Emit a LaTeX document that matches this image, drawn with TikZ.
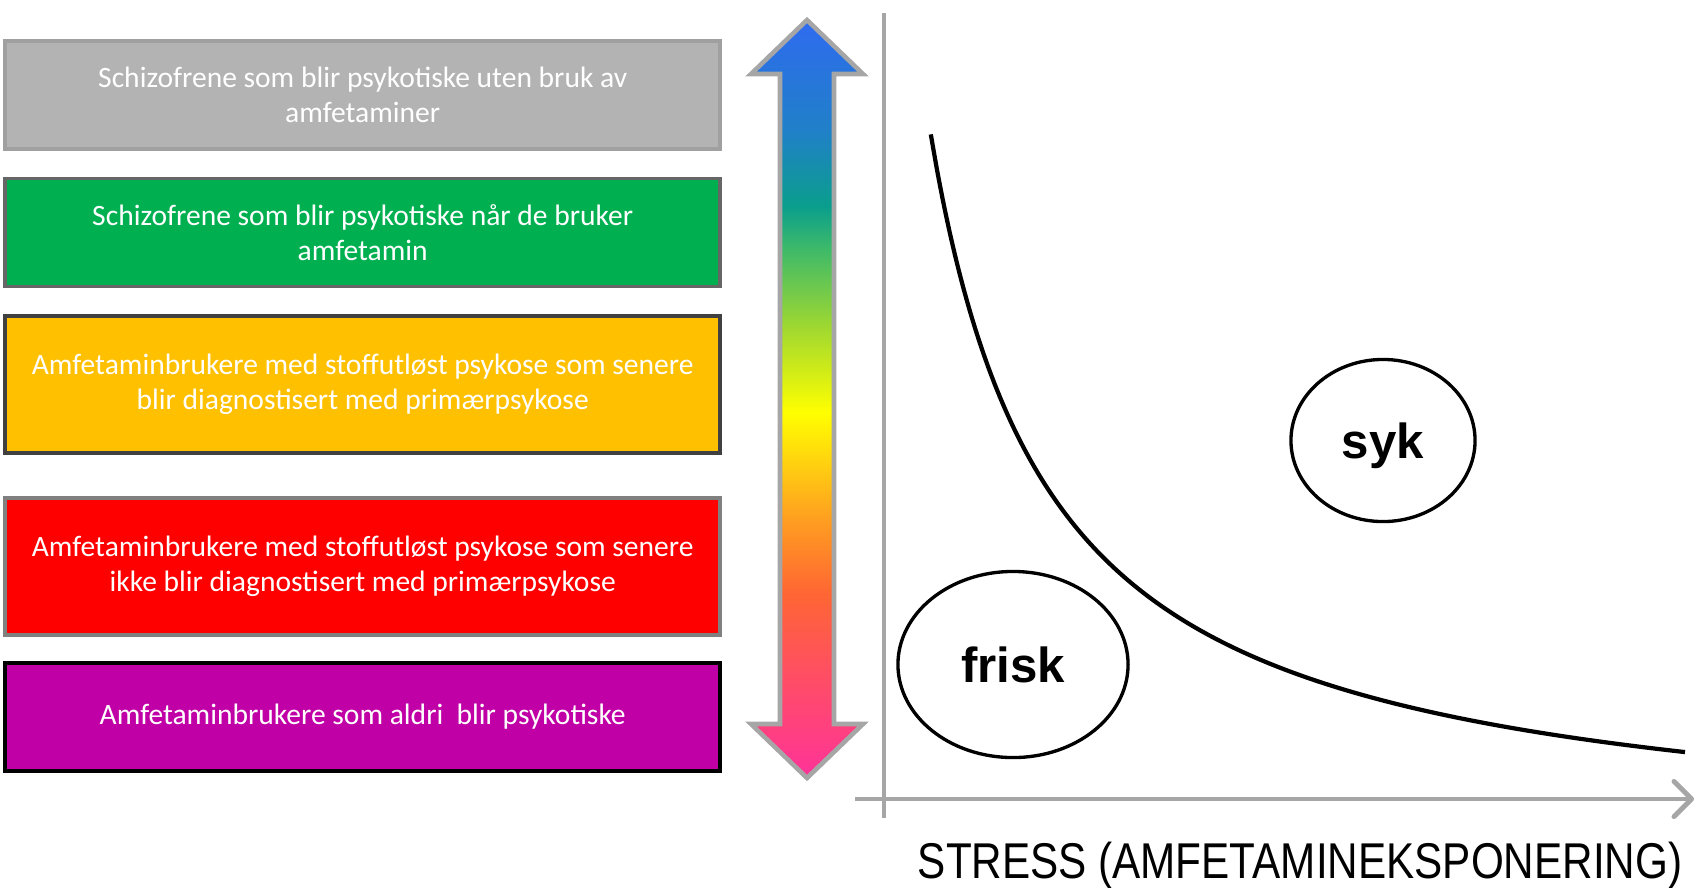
\documentclass[tikz,border=0pt]{standalone}
\usepackage{fontspec}
\setmainfont{Carlito}
\newfontfamily\arialfont{Liberation Sans}
\usepackage{graphicx}
\usetikzlibrary{positioning,shapes.geometric,arrows.meta}
\definecolor{boxgray}{HTML}{B3B3B3}
\definecolor{boxgrayline}{HTML}{A0A0A0}
\definecolor{boxgreen}{HTML}{00B050}
\definecolor{boxgreenline}{HTML}{666666}
\definecolor{boxamber}{HTML}{FFC000}
\definecolor{boxamberline}{HTML}{404040}
\definecolor{boxred}{HTML}{FF0000}
\definecolor{boxredline}{HTML}{808080}
\definecolor{boxpurple}{HTML}{C000A6}
\definecolor{axisgray}{HTML}{A6A6A6}
\definecolor{specpink}{HTML}{FF3399}
\definecolor{specrose}{HTML}{FF5060}
\definecolor{specred}{HTML}{FF6633}
\definecolor{specorange}{HTML}{FFA020}
\definecolor{specyellow}{HTML}{FFFF00}
\definecolor{speclime}{HTML}{A0D830}
\definecolor{specgreen}{HTML}{3CB96A}
\definecolor{specteal}{HTML}{0A9E8C}
\definecolor{specsea}{HTML}{2080C8}
\definecolor{specblue}{HTML}{2F6BF0}
\pgfdeclareverticalshading{spectrum}{100bp}{color(0bp)=(specpink); color(25bp)=(specpink);
  color(32.3bp)=(specrose); color(37.2bp)=(specred); color(42.2bp)=(specorange);
  color(49.1bp)=(specyellow); color(54.7bp)=(speclime); color(60bp)=(specgreen);
  color(62.7bp)=(specteal); color(67.7bp)=(specsea); color(75bp)=(specblue); color(100bp)=(specblue)}

\begin{document}
\begin{tikzpicture}
        [x=0.01cm, y=-0.01cm,
        every node/.style={align=center, outer sep=0pt},
        group/.style={rectangle, minimum width=7.146cm, line width=1pt, text=white,
        font=\fontsize{8.4}{10}\selectfont},
        short/.style={minimum height=1.08cm},
        tall/.style={minimum height=1.37cm},
        zone/.style={ellipse, draw=black, line width=0.95pt, text depth=0pt,
        font=\arialfont\bfseries\fontsize{14}{16}\selectfont},
        axis/.style={draw=axisgray, line width=1.4pt},
        node distance=0.295cm]
        \useasboundingbox (0,0) rectangle (1697,887);
        \node[group, short, fill=boxgray, draw=boxgrayline] (ownpsy) at (362.7,95)
            {Schizofrene som blir psykotiske uten bruk av\\amfetaminer};
        \node[group, short, fill=boxgreen, draw=boxgreenline, below=of ownpsy] (usepsy)
            {Schizofrene som blir psykotiske når de bruker\\amfetamin};
        \node[group, tall, fill=boxamber, draw=boxamberline, below=of usepsy] (diagpsy)
            {Amfetaminbrukere med stoffutløst psykose som senere\\blir diagnostisert med primærpsykose};
        \node[group, tall, fill=boxred, draw=boxredline, below=0.445cm of diagpsy] (nodiagpsy)
            {Amfetaminbrukere med stoffutløst psykose som senere\\ikke blir diagnostisert med primærpsykose};
        \node[group, short, fill=boxpurple, draw=black, below=0.28cm of nodiagpsy] (nopsy)
            {Amfetaminbrukere som aldri\ \ blir psykotiske};
        \shadedraw[draw=axisgray, line width=1.3pt, shading=spectrum]
            (807,20) -- (863,74) -- (834,74) -- (834,724) -- (863,724) -- (807,778)
            -- (751,724) -- (780,724) -- (780,74) -- (751,74) -- cycle;
        \coordinate (ytop) at (884,13);
        \coordinate (ybot) at (884,818);
        \coordinate (xbeg) at (855,799);
        \coordinate (xend) at (1694,799);
        \draw[axis] (ybot) -- (ytop);
        \draw[axis, -{Straight Barb[length=5pt, width=10pt, line cap=round, line join=round]}]
            (xbeg) -- (xend);
        \draw[line width=1.2pt] plot[domain=930.8:1685, samples=120, smooth]
            (\x, {849.6 - 851.83/((\x - 811.7)/100)});
        \node[zone, minimum width=2.30cm, minimum height=1.86cm] (frisk) at (1013,664.5) {frisk};
        \node[zone, minimum width=1.84cm, minimum height=1.62cm] (syk) at (1383,440.5) {syk};
        \node[inner sep=0pt, font=\arialfont\fontsize{14.3}{16}\selectfont] (stress) at (1300,865)
            {\scalebox{0.84}[1]{STRESS (AMFETAMINEKSPONERING)}};
\end{tikzpicture}
\end{document}
